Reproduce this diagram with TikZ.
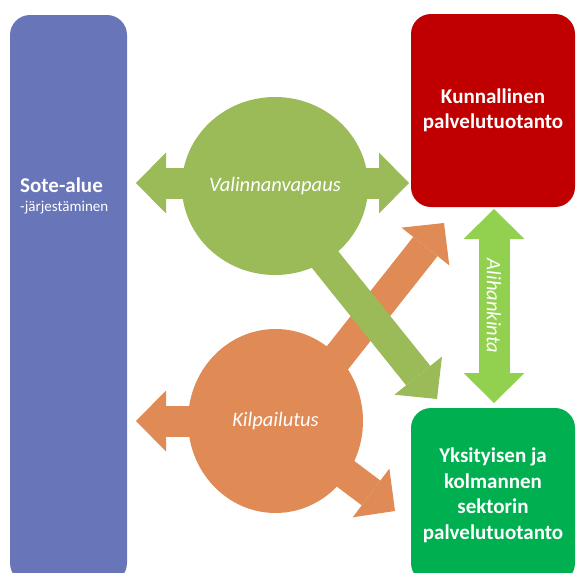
\documentclass[tikz,border=0pt]{standalone}
\usepackage{fontspec}
\setmainfont{Carlito}
\usetikzlibrary{arrows.meta,backgrounds,shapes.geometric}
\definecolor{soteblue}{HTML}{6875B9}
\definecolor{kuntared}{HTML}{C00000}
\definecolor{yksgreen}{HTML}{00B050}
\definecolor{valgreen}{HTML}{9BBB59}
\definecolor{kilporange}{HTML}{E08A55}
\definecolor{alilime}{HTML}{92D050}

\begin{document}
\begin{tikzpicture}
[x=1pt,y=-1pt,%
  every node/.style={text=white,inner sep=0pt,align=center},%
  box/.style={rounded corners=20pt,font=\bfseries\fontsize{21}{25.5}\selectfont},%
  blob/.style={ellipse,font=\itshape\fontsize{20.5}{24}\selectfont},%
  flow/.style={line width=31pt},%
  >={Triangle[length=30pt,width=61pt,line width=0pt]}]
\useasboundingbox (0,0) rectangle (576,573);
\node[box,fill=soteblue,minimum width=117,minimum height=568] (sote) at (68.5,299) {};
\node[anchor=base west,font=\bfseries\fontsize{21}{25}\selectfont] (soteT) at (20,192) {Sote-alue};
\node[anchor=base west,font=\fontsize{15}{18}\selectfont] (soteS) at (20,211) {-järjestäminen};
\node[box,fill=kuntared,minimum width=164,minimum height=193] (kunta) at (493,110.5)
  {Kunnallinen\\palvelutuotanto};
\node[box,fill=yksgreen,minimum width=164,minimum height=175] (yks) at (493,495.5)
  {Yksityisen ja\\kolmannen\\sektorin\\palvelutuotanto};
\node[blob,fill=valgreen,minimum width=176,minimum height=178] (valinta) at (275,186)
  {Valinnanvapaus};
\node[blob,fill=kilporange,minimum width=175,minimum height=184] (kilpailu) at (275.5,421)
  {Kilpailutus};
\coordinate (valL) at (136,183);
\coordinate (valR) at (409,183);
\coordinate (valYks) at (437,399);
\coordinate (kilpSote) at (136,421);
\coordinate (kilpKunta) at (444,223);
\coordinate (kilpYks) at (395,511);
\coordinate (aliT) at (494,209);
\coordinate (aliB) at (494,403);
\begin{scope}[on background layer]
\draw[flow,kilporange,->] (kilpailu.center) -- (kilpSote);
\draw[flow,kilporange,->] ([xshift=12pt]kilpailu.center) -- (kilpKunta);
\draw[flow,kilporange,->] (kilpailu.center) -- (kilpYks);
\draw[flow,valgreen,<->] (valL) -- (valR);
\draw[flow,valgreen,->] ([xshift=-9pt]valinta.center) -- (valYks);
\end{scope}
\draw[flow,alilime,<->] (aliT) -- node[rotate=-90,font=\itshape\fontsize{20.5}{24}\selectfont] (aliText) {Alihankinta} (aliB);
\end{tikzpicture}
\end{document}
